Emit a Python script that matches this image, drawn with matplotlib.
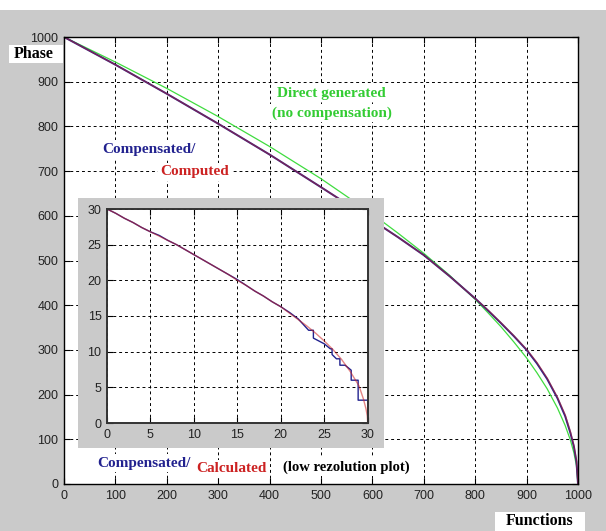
import matplotlib.pyplot as plt
from matplotlib.patches import Rectangle

# main plot values
func_x = [0, 100, 200, 300, 400, 500, 600, 650, 700, 750, 800, 825, 850, 875, 900,
          920, 940, 960, 975, 985, 992, 997, 1000]
compensated_y = [1000, 938, 873, 806, 737, 664, 590, 552, 512, 465, 415, 388, 360, 331, 300,
                 270, 235, 192, 152, 115, 84, 50, 0]
computed_y = [1000, 938, 873, 806, 737, 664, 590, 552, 512, 465, 415, 389, 361, 332, 301,
              272, 237, 194, 155, 118, 86, 52, 0]
direct_y = [1000, 944, 885, 822, 755, 683, 604, 561, 516, 467, 413, 383, 352, 318, 282,
            249, 213, 170, 131, 99, 70, 41, 0]

# low resolution inset
low_x = [0, 1, 2, 3, 4, 5, 6, 7, 8, 9, 10, 11, 12, 13, 14, 15, 16, 17, 18, 19, 20,
         21, 22, 23, 24, 25, 26, 27, 28, 29, 29.5, 29.8, 29.95, 30]
calc_y = [30.0, 29.4, 28.7, 28.1, 27.4, 26.8, 26.2, 25.6, 25.0, 24.3, 23.6, 22.9, 22.2,
          21.5, 20.8, 20.0, 19.3, 18.5, 17.8, 17.0, 16.3, 15.4, 14.5, 13.6, 12.6, 11.5,
          10.3, 8.9, 7.2, 5.2, 3.4, 2.0, 1.0, 0.0]
step_x = [0, 1, 2, 3, 4, 5, 6, 7, 8, 9, 10, 11, 12, 13, 14, 15, 16, 17, 18, 19, 20, 21, 22,
          23.2, 23.75, 23.75, 25, 25.7, 25.9, 25.9, 26.4, 26.8, 26.8, 27.4, 28.1, 28.1,
          28.9, 28.9, 30, 30]
step_y = [30, 29.4, 28.7, 28.1, 27.4, 26.8, 26.3, 25.6, 25.0, 24.3, 23.6, 22.9, 22.2, 21.5,
          20.8, 20.1, 19.3, 18.5, 17.8, 17.0, 16.3, 15.5, 14.6,
          13.0, 13.0, 11.9, 11.1, 10.4, 10.4, 9.6, 9.0, 9.0, 8.1, 8.1, 7.4, 6.0,
          6.0, 3.2, 3.2, 0]

W, H = 606, 531
GRAY = "#cacaca"
BLUE = "#22228f"
RED = "#cc2222"
GREEN = "#3fdc3f"
serif = "Liberation Serif"
sans = "Liberation Sans"


def fx(px):
    return px / W


def fy(py):
    return 1 - py / H


fig = plt.figure(figsize=(W / 100, H / 100), dpi=100, facecolor=GRAY)
fig.add_artist(Rectangle((0, fy(10)), 1, 10 / H, transform=fig.transFigure,
                         facecolor="white", edgecolor="none"))

grid_style = dict(color="black", linestyle=(0, (3, 3)), linewidth=0.7)

# main axes
ax = fig.add_axes([fx(64), fy(484), (578 - 64) / W, (484 - 37) / H])
ax.plot(func_x, direct_y, color=GREEN, lw=0.9)
ax.plot(func_x, compensated_y, color=BLUE, lw=1.4)
ax.plot(func_x, computed_y, color=RED, lw=1.0, alpha=0.5)
ax.set_xlim(0, 1000)
ax.set_ylim(0, 1000)
ax.set_xticks(range(0, 1001, 100))
ax.set_yticks(range(0, 1001, 100))
ax.grid(True, **grid_style)
ax.tick_params(direction="in", top=True, right=True, length=4, labelsize=9,
               labelcolor="#222222", pad=4)
for lab in ax.get_xticklabels() + ax.get_yticklabels():
    lab.set_family(sans)
for s in ax.spines.values():
    s.set_linewidth(1.0)

# gray frame behind the inset
fr = fig.add_axes([fx(78), fy(448), (384 - 78) / W, (448 - 198) / H])
fr.set_facecolor(GRAY)
fr.set_xticks([])
fr.set_yticks([])
for s in fr.spines.values():
    s.set_visible(False)

# inset
ins = fig.add_axes([fx(107), fy(423), (367.7 - 107) / W, (423 - 209) / H])
ins.plot(step_x, step_y, color=BLUE, lw=1.0)
ins.plot(low_x, calc_y, color=RED, lw=1.0, alpha=0.55)
ins.set_xlim(0, 30)
ins.set_ylim(0, 30)
ins.set_xticks(range(0, 31, 5))
ins.set_yticks(range(0, 31, 5))
ins.grid(True, **grid_style)
ins.tick_params(direction="in", top=True, right=True, length=4, labelsize=9,
                labelcolor="#222222", pad=4)
for lab in ins.get_xticklabels() + ins.get_yticklabels():
    lab.set_family(sans)
for s in ins.spines.values():
    s.set_linewidth(1.4)
    s.set_color("#333333")

# annotations
txt = dict(family=serif, weight="bold", ha="center", va="center")
wb = dict(facecolor="white", edgecolor="none", pad=1.5)
fig.text(fx(331), fy(93), "Direct generated", color="#33cc33", fontsize=11, bbox=wb, **txt)
fig.text(fx(332), fy(113), "(no compensation)", color="#33cc33", fontsize=11, bbox=wb, **txt)
fig.text(fx(149), fy(149), "Compensated/", color=BLUE, fontsize=11, bbox=wb, **txt)
fig.text(fx(195), fy(172), "Computed", color=RED, fontsize=11, bbox=wb, **txt)

fig.text(fx(144), fy(463), "Compensated/", color=BLUE, fontsize=11, bbox=wb, **txt)
fig.text(fx(231), fy(469), "Calculated", color=RED, fontsize=11, bbox=wb, **txt)
fig.text(fx(346), fy(467), "(low rezolution plot)", color="black", fontsize=10.5, bbox=wb, **txt)

# axis labels in white boxes
fig.add_artist(Rectangle((fx(9), fy(63)), 54 / W, 18 / H, transform=fig.transFigure,
                         facecolor="white", edgecolor="none"))
fig.text(fx(34), fy(54), "Phase", color="black", fontsize=11.5, **txt)
fig.add_artist(Rectangle((fx(495), fy(531)), 90 / W, 19 / H, transform=fig.transFigure,
                         facecolor="white", edgecolor="none"))
fig.text(fx(540), fy(521), "Functions", color="black", fontsize=11.5, **txt)

fig.savefig("out.png", dpi=100, facecolor=GRAY)
